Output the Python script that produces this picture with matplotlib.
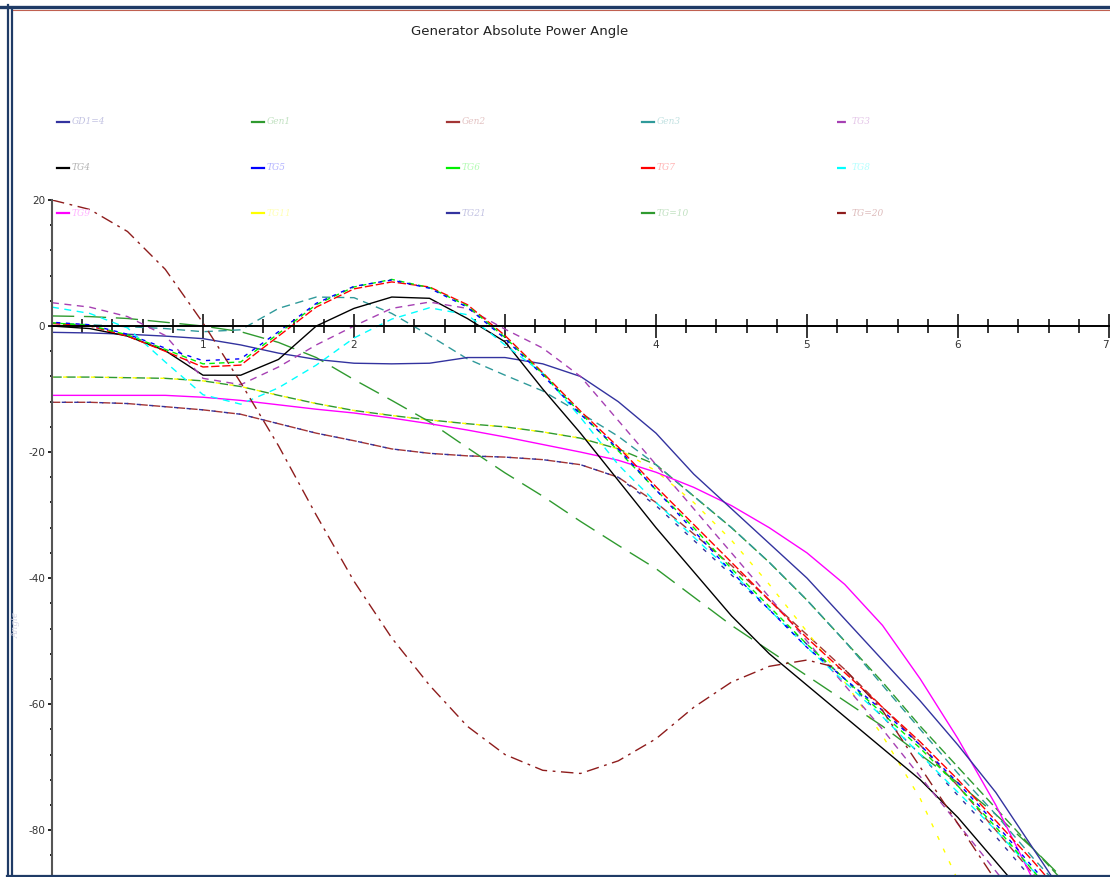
import matplotlib
matplotlib.use('Agg')
import matplotlib.pyplot as plt
from matplotlib.lines import Line2D
from matplotlib.colors import to_rgb
from matplotlib.ticker import MultipleLocator

plt.rcParams['axes.unicode_minus'] = False

W, H = 1110, 877

# time (s) and angle (deg)
t = [0, 0.25, 0.5, 0.75, 1, 1.25, 1.5, 1.75, 2, 2.25, 2.5, 2.75, 3, 3.25, 3.5,
     3.75, 4, 4.25, 4.5, 4.75, 5, 5.25, 5.5, 5.75, 6, 6.25, 6.5, 6.75, 7]

gd1_4 = [-1.0, -1.1, -1.3, -1.6, -2.0, -3.0, -4.3, -5.3, -5.9, -6.0, -5.9, -5.0, -5.0, -6.0, -8.0,
         -12.0, -17.0, -23.5, -29.0, -34.5, -40.0, -46.5, -53.0, -59.5, -66.5, -74.0, -83.0, -92.0, -101.0]
gen1 = [1.6, 1.5, 1.2, 0.6, 0.0, -0.9, -2.6, -5.0, -8.5, -11.8, -15.2, -19.3, -23.3, -27.0, -31.0,
        -34.8, -38.5, -43.0, -47.5, -51.5, -55.5, -59.5, -63.5, -68.0, -72.5, -77.5, -83.0, -89.0, -95.0]
gen2 = [-12.1, -12.1, -12.3, -12.8, -13.3, -14.0, -15.5, -17.0, -18.2, -19.5, -20.2, -20.6, -20.8, -21.2, -22.0,
        -24.0, -28.0, -33.0, -38.0, -43.5, -49.0, -54.5, -60.5, -66.5, -73.0, -80.0, -87.0, -94.0, -101.0]
gen3 = [0.5, 0.2, -0.1, -0.4, -0.9, -0.6, 2.8, 4.6, 4.5, 2.0, -1.5, -5.2, -7.8, -10.3, -13.8,
        -17.5, -22.0, -27.0, -32.0, -37.5, -43.5, -50.0, -57.0, -64.0, -71.0, -77.5, -84.5, -91.0, -98.0]
tg3 = [3.7, 3.0, 1.5, -1.5, -8.3, -9.3, -6.5, -3.0, 0.0, 2.8, 3.8, 2.8, -0.5, -3.5, -8.0,
       -15.0, -22.0, -29.0, -36.0, -43.0, -50.0, -57.0, -64.0, -71.5, -79.0, -86.5, -94.0, -101.0, -108.0]
tg4 = [0.0, -0.4, -1.6, -3.9, -7.8, -7.8, -5.3, 0.0, 2.8, 4.6, 4.4, 1.2, -2.5, -10.0, -17.0,
       -24.5, -32.0, -39.0, -46.0, -52.0, -57.0, -62.0, -67.0, -72.0, -78.0, -85.0, -92.0, -99.0, -106.0]
tg5 = [0.6, 0.2, -1.3, -3.5, -5.5, -5.2, -0.9, 3.6, 6.3, 7.3, 6.0, 3.0, -2.0, -7.8, -14.0,
       -19.5, -26.0, -32.5, -39.0, -45.0, -51.0, -56.0, -61.0, -66.5, -72.5, -79.0, -86.0, -93.0, -100.0]
tg6 = [0.5, 0.1, -1.4, -3.7, -6.0, -5.7, -1.2, 3.4, 6.2, 7.4, 6.1, 3.2, -1.8, -7.6, -13.8,
       -19.8, -26.0, -32.0, -38.5, -44.5, -50.5, -56.0, -61.5, -67.0, -73.0, -79.5, -86.5, -93.5, -100.5]
tg7 = [0.4, 0.0, -1.6, -4.0, -6.5, -6.2, -1.6, 3.0, 5.9, 7.0, 6.2, 3.4, -1.5, -7.4, -13.5,
       -19.2, -25.5, -31.5, -37.5, -43.5, -49.5, -55.0, -60.5, -66.0, -72.0, -78.5, -85.0, -92.0, -99.0]
tg8 = [3.0, 2.0, -0.3, -5.7, -10.9, -12.4, -9.8, -6.2, -1.9, 1.1, 2.9, 1.8, -3.0, -7.5, -14.5,
       -22.0, -28.0, -33.5, -39.0, -45.0, -51.0, -56.5, -62.0, -68.0, -74.0, -80.0, -86.5, -93.0, -100.0]
tg9 = [-11.0, -11.0, -11.0, -11.0, -11.3, -11.8, -12.5, -13.2, -13.8, -14.6, -15.5, -16.5, -17.6, -18.8, -20.0,
       -21.3, -23.2, -25.6, -28.5, -32.0, -36.0, -41.0, -47.5, -56.0, -65.5, -76.0, -88.0, -100.0, -112.0]
tg11 = [-8.1, -8.1, -8.2, -8.3, -8.7, -9.6, -11.0, -12.3, -13.4, -14.2, -14.9, -15.5, -16.0, -16.8, -17.8,
        -19.5, -23.0, -28.0, -34.0, -41.0, -48.5, -56.5, -65.0, -75.0, -88.0, -100.0, -112.0, -124.0, -136.0]
tg21 = [-12.1, -12.1, -12.3, -12.8, -13.3, -14.0, -15.5, -17.0, -18.2, -19.5, -20.2, -20.6, -20.8, -21.2, -22.0,
        -24.0, -28.5, -34.0, -39.5, -45.0, -50.5, -56.0, -62.0, -68.0, -74.5, -81.0, -88.0, -95.0, -102.0]
tg10 = [-8.1, -8.1, -8.2, -8.3, -8.7, -9.6, -11.0, -12.3, -13.4, -14.2, -14.9, -15.5, -16.0, -16.8, -17.8,
        -19.5, -22.0, -27.0, -32.0, -37.5, -43.5, -50.0, -56.5, -63.5, -70.0, -76.5, -83.0, -89.5, -96.0]
tg20 = [20.0, 18.5, 15.0, 9.0, 0.5, -9.0, -19.0, -30.0, -40.5, -49.5, -57.0, -63.5, -68.0, -70.5, -71.0,
        -69.0, -65.5, -60.5, -56.5, -54.0, -53.0, -54.5, -61.0, -70.0, -79.0, -88.0, -97.0, -106.0, -115.0]

names = ['GD1=4', 'Gen1', 'Gen2', 'Gen3', 'TG3',
         'TG4', 'TG5', 'TG6', 'TG7', 'TG8',
         'TG9', 'TG11', 'TG21', 'TG=10', 'TG=20']
series = [gd1_4, gen1, gen2, gen3, tg3, tg4, tg5, tg6, tg7, tg8, tg9, tg11, tg21, tg10, tg20]
colors = ['#33339f', '#2f9a2f', '#a33535', '#2f9a9a', '#a640b3',
          '#000000', '#0000ff', '#00f000', '#ff0000', '#00ffff',
          '#ff00ff', '#ffff00', '#33339f', '#2f9a2f', '#8e1c1c']
# line styles: '-' solid, otherwise (offset, dash pattern)
styles = ['-', (0, (16, 7)), (0, (6, 3)), (0, (6, 4)), (0, (5, 4)),
          '-', (4, (3, 4)), (1, (4, 3)), (0, (6, 2)), (0, (5, 4)),
          '-', (2, (3, 7)), (2, (3, 6)), (0, (7, 3)), (0, (9, 4, 2, 4))]
draw_order = [2, 12, 13, 11, 1, 3, 10, 0, 5, 4, 9, 8, 7, 6, 14]
legend_dashed = ['TG3', 'TG8', 'TG=20']

fig = plt.figure(figsize=(W / 100, H / 100), dpi=100)
fig.patch.set_facecolor('white')
ax = fig.add_axes([52 / W, 0, 1057 / W, 677 / H])
ax.set_xlim(0, 7)
ax.set_ylim(-87.43, 20)

for i in draw_order:
    ax.plot(t, series[i], color=colors[i], lw=1.0, ls=styles[i])

ax.spines['top'].set_visible(False)
ax.spines['right'].set_visible(False)
ax.spines['bottom'].set_position(('data', 0))
ax.spines['bottom'].set_linewidth(1.4)
ax.spines['bottom'].set_zorder(5)
ax.spines['left'].set_color('#555555')
ax.spines['left'].set_linewidth(1.5)

ax.set_xticks([1, 2, 3, 4, 5, 6, 7])
ax.xaxis.set_minor_locator(MultipleLocator(0.2))
ax.set_yticks([-80, -60, -40, -20, 0, 20])
ax.yaxis.set_minor_locator(MultipleLocator(4))
ax.tick_params(axis='x', which='major', direction='inout', length=17, width=1.1,
               pad=1.5, labelsize=7.5, labelcolor='#333333')
ax.tick_params(axis='x', which='minor', direction='inout', length=10, width=1.1)
ax.tick_params(axis='y', which='major', direction='out', length=3, width=1.2,
               pad=2, labelsize=7.5, labelcolor='#333333')
ax.tick_params(axis='y', which='minor', direction='out', length=1.5, width=1.2)
# last label sits at the window edge; keep it inside
ax.get_xticklabels()[-1].set_horizontalalignment('right')

fig.text(520 / W, 1 - 31 / H, 'Generator Absolute Power Angle', ha='center', va='center',
         fontsize=9.5, color='#222222')
fig.text(16 / W, 1 - 625 / H, 'Angle', rotation=90, ha='center', va='center',
         fontsize=6.5, color='#d4d4e4', family='DejaVu Serif', style='italic')


def fade(c):
    r, g, b = to_rgb(c)
    return (0.3 * r + 0.7, 0.3 * g + 0.7, 0.3 * b + 0.7)


# legend, 3 rows x 5 columns
for i, name in enumerate(names):
    col, row = i % 5, i // 5
    x0 = (57 + 195 * col) / W
    y0 = 1 - (122 + 45.5 * row) / H
    ls = (0, (4, 2.5, 1.5, 2.5)) if name in legend_dashed else '-'
    fig.add_artist(Line2D([x0, x0 + 12 / W], [y0, y0], transform=fig.transFigure,
                          color=colors[i], lw=1.6, ls=ls))
    fig.text(x0 + 15 / W, y0, name, color=fade(colors[i]), fontsize=6.5, style='italic',
             family='DejaVu Serif', va='center', ha='left')

# window frame
navy = '#1f3b66'


def fline(x, y, c, lw):
    fig.add_artist(Line2D([v / W for v in x], [1 - v / H for v in y],
                          transform=fig.transFigure, color=c, lw=lw))


fline([0, W], [6.5, 6.5], navy, 2.4)
fline([12, W], [10, 10], '#c06050', 0.8)
fline([7.5, 7.5], [5, H], navy, 1.6)
fline([11.5, 11.5], [9, H], navy, 1.6)
fline([7, W], [875.5, 875.5], navy, 1.6)

fig.savefig('out.png', dpi=100, facecolor='white')
